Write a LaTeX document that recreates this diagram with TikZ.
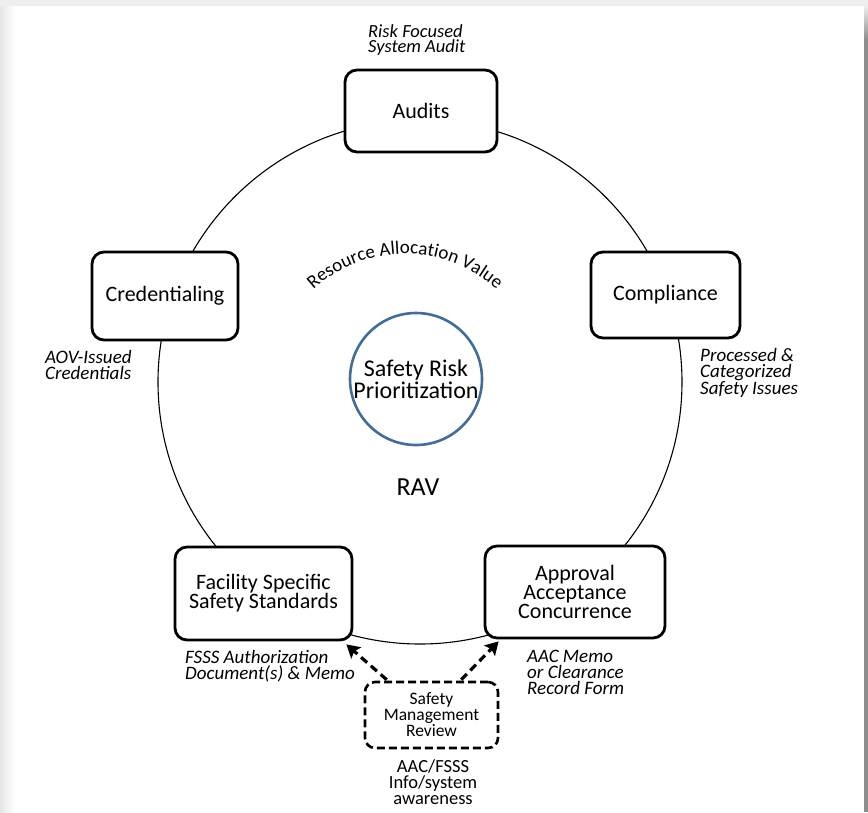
\documentclass[tikz,border=0pt]{standalone}
\usepackage{fontspec}
\setmainfont{Carlito}
\usetikzlibrary{decorations.text,arrows.meta,calc}

\definecolor{ringblue}{RGB}{68,108,152}
\definecolor{pagegray}{RGB}{238,238,238}
\definecolor{edgegray}{RGB}{140,140,140}

\tikzset{
  stagebox/.style={draw=black, line width=2.8pt, fill=white, rounded corners=12pt,
    align=center, inner sep=2pt, font=\fontsize{22}{19}\selectfont},
  reviewbox/.style={draw=black, line width=2.6pt, dash pattern=on 8pt off 4pt, fill=white,
    rounded corners=10pt, align=center, inner sep=2pt, font=\fontsize{17.5}{16}\selectfont},
  note/.style={align=left, inner sep=0pt, anchor=north west,
    font=\fontsize{19}{16}\selectfont\itshape},
  dasharrow/.style={line width=3.2pt, dash pattern=on 8pt off 5pt,
    -{Stealth[length=13pt,width=15pt,inset=2.5pt]}},
}

\begin{document}
\begin{tikzpicture}[x=1pt,y=-1pt]
\useasboundingbox (0,0) rectangle (868,812);

% page and its frame
\fill[pagegray] (0,0) rectangle (868,812);
\shade[left color=black!10, right color=white] (0,6) rectangle (15,812);
\fill[white] (15,6) rectangle (864,812);
\shade[top color=pagegray, bottom color=edgegray] (864,6) rectangle (868,40);
\fill[edgegray] (864,40) rectangle (868,812);

% the cycle ring
\coordinate (ringc) at (420,382);
\draw[line width=1.1pt] (ringc) circle[radius=262];

% stages
\node[stagebox, minimum width=152pt, minimum height=82pt] (aud) at (421,111) {Audits};
\node[stagebox, minimum width=146pt, minimum height=88pt] (cred) at (165,296) {Credentialing};
\node[stagebox, minimum width=149pt, minimum height=86pt] (comp) at (665.5,295) {Compliance};
\node[stagebox, minimum width=177pt, minimum height=93pt] (fsss) at (263.5,593.5) {Facility Specific\\Safety Standards};
\node[stagebox, minimum width=180pt, minimum height=92pt] (aac) at (575,592) {Approval\\Acceptance\\Concurrence};

% centre
\node[circle, draw=ringblue, line width=2.6pt, minimum size=132pt, inner sep=0pt,
  align=center, font=\fontsize{24}{22}\selectfont] (srp) at (416,379) {Safety Risk\\Prioritization};
\node[font=\fontsize{26}{26}\selectfont] (rav) at (418,487) {RAV};

\coordinate (arcc) at (405,390);
\path[decorate, decoration={text along path, text align=center,
    text={|\fontsize{19}{19}\selectfont|Resource Allocation Value}}]
  ($(arcc)+(205:136)$) arc[start angle=205, end angle=335, radius=136];

% outputs of each stage
\node[note, font=\fontsize{18.5}{15.5}\selectfont\itshape] (audnote) at (368,24) {Risk Focused\\System Audit};
\node[note] (crednote) at (45,350) {AOV-Issued\\Credentials};
\node[note] (compnote) at (700,348) {Processed \&\\Categorized\\Safety Issues};
\node[note] (fsssnote) at (185,650) {FSSS Authorization\\Document(s) \& Memo};
\node[note] (aacnote) at (527,650) {AAC Memo\\or Clearance\\Record Form};

% review loop
\node[reviewbox, minimum width=133pt, minimum height=66pt] (smr) at (431.5,715) {Safety\\Management\\Review};
\node[align=center, inner sep=0pt, anchor=north, font=\fontsize{18.5}{16}\selectfont] (smrnote) at (433,759) {AAC/FSSS\\Info/system\\awareness};

\draw[dasharrow] ($(smr.north west)+(23,-1)$) -- ($(fsss.south east)+(-7,3)$);
\draw[dasharrow] ($(smr.north east)+(-38,-1)$) -- ($(aac.south west)+(15,2)$);
\end{tikzpicture}
\end{document}
